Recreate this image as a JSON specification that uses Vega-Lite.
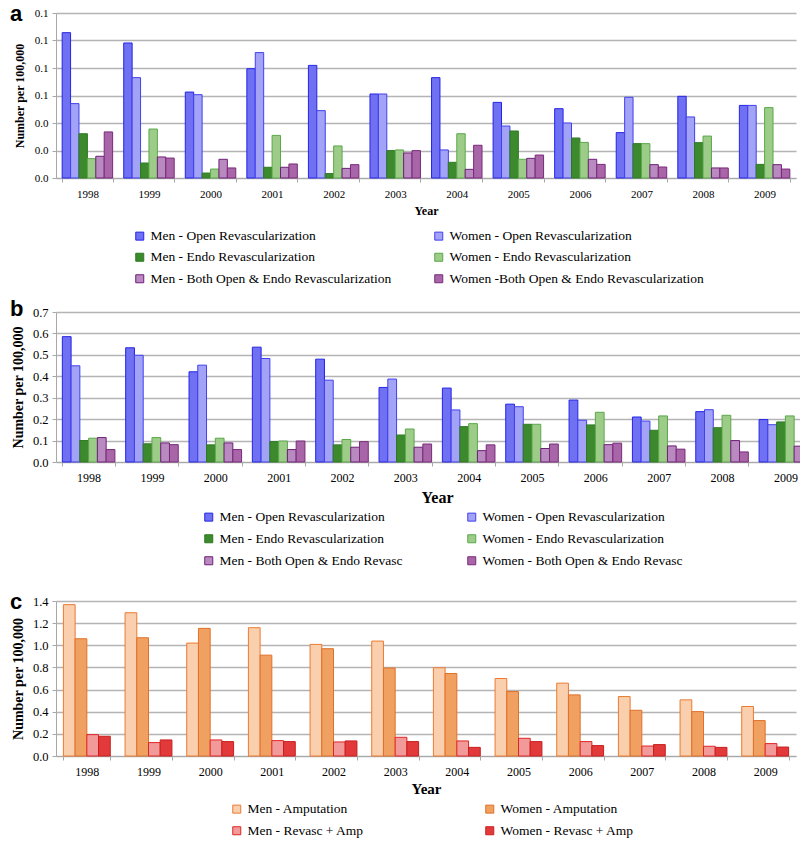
{
  "$schema": "https://vega.github.io/schema/vega-lite/v6.json",
  "background": "white",
  "padding": {"left": 10, "top": 3, "right": 5, "bottom": 2},
  "spacing": 12,
  "resolve": {"scale": {"fill": "independent", "stroke": "independent", "xOffset": "independent", "x": "independent", "y": "independent"}, "legend": {"fill": "independent", "stroke": "independent"}},
  "config": {
    "font": "Liberation Serif",
    "style": {"guide-label": {"font": "Liberation Serif"}, "guide-title": {"font": "Liberation Serif"}},
    "view": {"stroke": null},
    "axis": {"labelFont": "Liberation Serif", "titleFont": "Liberation Serif", "labelColor": "#000", "titleColor": "#000", "domainColor": "#a8a8a8", "tickColor": "#a8a8a8", "gridColor": "#b4b4b4", "gridWidth": 1.5, "titleFontWeight": "bold"},
    "axisX": {"labelAngle": 0, "tickBand": "extent", "tickSize": 4, "grid": false, "labelPadding": 6},
    "axisY": {"tickSize": 4, "labelPadding": 4},
    "legend": {"orient": "none", "direction": "horizontal", "columns": 2, "title": null, "symbolType": "square", "symbolSize": 64, "symbolStrokeWidth": 1, "labelFont": "Liberation Serif", "labelFontSize": 13.5, "labelColor": "#000", "labelLimit": 400, "rowPadding": 6.5, "labelOffset": 4},
    "title": {"font": "Liberation Sans", "fontSize": 22, "fontWeight": "bold", "color": "#000", "anchor": "start", "frame": "group", "orient": "top", "dx": -46, "offset": -19}
  },
  "datasets": {
    "a": [
      {"y":"1998","s":"MO","v":0.1057},{"y":"1998","s":"WO","v":0.0541},{"y":"1998","s":"ME","v":0.0322},{"y":"1998","s":"WE","v":0.0141},{"y":"1998","s":"MB","v":0.0158},{"y":"1998","s":"WB","v":0.0335},
      {"y":"1999","s":"MO","v":0.0982},{"y":"1999","s":"WO","v":0.073},{"y":"1999","s":"ME","v":0.0109},{"y":"1999","s":"WE","v":0.0356},{"y":"1999","s":"MB","v":0.0153},{"y":"1999","s":"WB","v":0.0145},
      {"y":"2000","s":"MO","v":0.0625},{"y":"2000","s":"WO","v":0.0606},{"y":"2000","s":"ME","v":0.0036},{"y":"2000","s":"WE","v":0.0065},{"y":"2000","s":"MB","v":0.0136},{"y":"2000","s":"WB","v":0.0073},
      {"y":"2001","s":"MO","v":0.0795},{"y":"2001","s":"WO","v":0.0912},{"y":"2001","s":"ME","v":0.0078},{"y":"2001","s":"WE","v":0.031},{"y":"2001","s":"MB","v":0.0078},{"y":"2001","s":"WB","v":0.0102},
      {"y":"2002","s":"MO","v":0.0819},{"y":"2002","s":"WO","v":0.049},{"y":"2002","s":"ME","v":0.0032},{"y":"2002","s":"WE","v":0.0233},{"y":"2002","s":"MB","v":0.007},{"y":"2002","s":"WB","v":0.0097},
      {"y":"2003","s":"MO","v":0.0611},{"y":"2003","s":"WO","v":0.0611},{"y":"2003","s":"ME","v":0.0199},{"y":"2003","s":"WE","v":0.0204},{"y":"2003","s":"MB","v":0.0182},{"y":"2003","s":"WB","v":0.0199},
      {"y":"2004","s":"MO","v":0.073},{"y":"2004","s":"WO","v":0.0204},{"y":"2004","s":"ME","v":0.0114},{"y":"2004","s":"WE","v":0.0322},{"y":"2004","s":"MB","v":0.0063},{"y":"2004","s":"WB","v":0.0238},
      {"y":"2005","s":"MO","v":0.055},{"y":"2005","s":"WO","v":0.0378},{"y":"2005","s":"ME","v":0.0342},{"y":"2005","s":"WE","v":0.0136},{"y":"2005","s":"MB","v":0.0143},{"y":"2005","s":"WB","v":0.0167},
      {"y":"2006","s":"MO","v":0.0504},{"y":"2006","s":"WO","v":0.04},{"y":"2006","s":"ME","v":0.0291},{"y":"2006","s":"WE","v":0.0259},{"y":"2006","s":"MB","v":0.0136},{"y":"2006","s":"WB","v":0.0099},
      {"y":"2007","s":"MO","v":0.033},{"y":"2007","s":"WO","v":0.0587},{"y":"2007","s":"ME","v":0.025},{"y":"2007","s":"WE","v":0.025},{"y":"2007","s":"MB","v":0.0097},{"y":"2007","s":"WB","v":0.008},
      {"y":"2008","s":"MO","v":0.0594},{"y":"2008","s":"WO","v":0.0444},{"y":"2008","s":"ME","v":0.0257},{"y":"2008","s":"WE","v":0.0305},{"y":"2008","s":"MB","v":0.0073},{"y":"2008","s":"WB","v":0.0073},
      {"y":"2009","s":"MO","v":0.0528},{"y":"2009","s":"WO","v":0.0528},{"y":"2009","s":"ME","v":0.0099},{"y":"2009","s":"WE","v":0.0512},{"y":"2009","s":"MB","v":0.0097},{"y":"2009","s":"WB","v":0.0065}
    ],
    "b": [
      {"y":"1998","s":"MO","v":0.585},{"y":"1998","s":"WO","v":0.449},{"y":"1998","s":"ME","v":0.1},{"y":"1998","s":"WE","v":0.111},{"y":"1998","s":"MB","v":0.114},{"y":"1998","s":"WB","v":0.058},
      {"y":"1999","s":"MO","v":0.533},{"y":"1999","s":"WO","v":0.498},{"y":"1999","s":"ME","v":0.085},{"y":"1999","s":"WE","v":0.114},{"y":"1999","s":"MB","v":0.089},{"y":"1999","s":"WB","v":0.081},
      {"y":"2000","s":"MO","v":0.421},{"y":"2000","s":"WO","v":0.452},{"y":"2000","s":"ME","v":0.08},{"y":"2000","s":"WE","v":0.111},{"y":"2000","s":"MB","v":0.089},{"y":"2000","s":"WB","v":0.058},
      {"y":"2001","s":"MO","v":0.536},{"y":"2001","s":"WO","v":0.483},{"y":"2001","s":"ME","v":0.095},{"y":"2001","s":"WE","v":0.098},{"y":"2001","s":"MB","v":0.058},{"y":"2001","s":"WB","v":0.098},
      {"y":"2002","s":"MO","v":0.48},{"y":"2002","s":"WO","v":0.382},{"y":"2002","s":"ME","v":0.08},{"y":"2002","s":"WE","v":0.105},{"y":"2002","s":"MB","v":0.069},{"y":"2002","s":"WB","v":0.095},
      {"y":"2003","s":"MO","v":0.348},{"y":"2003","s":"WO","v":0.387},{"y":"2003","s":"ME","v":0.126},{"y":"2003","s":"WE","v":0.154},{"y":"2003","s":"MB","v":0.069},{"y":"2003","s":"WB","v":0.084},
      {"y":"2004","s":"MO","v":0.345},{"y":"2004","s":"WO","v":0.243},{"y":"2004","s":"ME","v":0.165},{"y":"2004","s":"WE","v":0.179},{"y":"2004","s":"MB","v":0.053},{"y":"2004","s":"WB","v":0.08},
      {"y":"2005","s":"MO","v":0.27},{"y":"2005","s":"WO","v":0.258},{"y":"2005","s":"ME","v":0.176},{"y":"2005","s":"WE","v":0.176},{"y":"2005","s":"MB","v":0.063},{"y":"2005","s":"WB","v":0.084},
      {"y":"2006","s":"MO","v":0.289},{"y":"2006","s":"WO","v":0.195},{"y":"2006","s":"ME","v":0.173},{"y":"2006","s":"WE","v":0.232},{"y":"2006","s":"MB","v":0.081},{"y":"2006","s":"WB","v":0.088},
      {"y":"2007","s":"MO","v":0.21},{"y":"2007","s":"WO","v":0.191},{"y":"2007","s":"ME","v":0.148},{"y":"2007","s":"WE","v":0.215},{"y":"2007","s":"MB","v":0.075},{"y":"2007","s":"WB","v":0.06},
      {"y":"2008","s":"MO","v":0.235},{"y":"2008","s":"WO","v":0.244},{"y":"2008","s":"ME","v":0.16},{"y":"2008","s":"WE","v":0.218},{"y":"2008","s":"MB","v":0.1},{"y":"2008","s":"WB","v":0.047},
      {"y":"2009","s":"MO","v":0.198},{"y":"2009","s":"WO","v":0.174},{"y":"2009","s":"ME","v":0.187},{"y":"2009","s":"WE","v":0.215},{"y":"2009","s":"MB","v":0.074},{"y":"2009","s":"WB","v":0.07}
    ],
    "c": [
      {"y":"1998","s":"MA","v":1.367},{"y":"1998","s":"WA","v":1.059},{"y":"1998","s":"MR","v":0.193},{"y":"1998","s":"WR","v":0.178},
      {"y":"1999","s":"MA","v":1.294},{"y":"1999","s":"WA","v":1.068},{"y":"1999","s":"MR","v":0.121},{"y":"1999","s":"WR","v":0.145},
      {"y":"2000","s":"MA","v":1.02},{"y":"2000","s":"WA","v":1.153},{"y":"2000","s":"MR","v":0.145},{"y":"2000","s":"WR","v":0.13},
      {"y":"2001","s":"MA","v":1.159},{"y":"2001","s":"WA","v":0.911},{"y":"2001","s":"MR","v":0.139},{"y":"2001","s":"WR","v":0.13},
      {"y":"2002","s":"MA","v":1.008},{"y":"2002","s":"WA","v":0.969},{"y":"2002","s":"MR","v":0.127},{"y":"2002","s":"WR","v":0.136},
      {"y":"2003","s":"MA","v":1.038},{"y":"2003","s":"WA","v":0.794},{"y":"2003","s":"MR","v":0.169},{"y":"2003","s":"WR","v":0.13},
      {"y":"2004","s":"MA","v":0.797},{"y":"2004","s":"WA","v":0.745},{"y":"2004","s":"MR","v":0.136},{"y":"2004","s":"WR","v":0.078},
      {"y":"2005","s":"MA","v":0.7},{"y":"2005","s":"WA","v":0.582},{"y":"2005","s":"MR","v":0.16},{"y":"2005","s":"WR","v":0.13},
      {"y":"2006","s":"MA","v":0.658},{"y":"2006","s":"WA","v":0.552},{"y":"2006","s":"MR","v":0.13},{"y":"2006","s":"WR","v":0.094},
      {"y":"2007","s":"MA","v":0.537},{"y":"2007","s":"WA","v":0.413},{"y":"2007","s":"MR","v":0.09},{"y":"2007","s":"WR","v":0.103},
      {"y":"2008","s":"MA","v":0.507},{"y":"2008","s":"WA","v":0.401},{"y":"2008","s":"MR","v":0.088},{"y":"2008","s":"WR","v":0.078},
      {"y":"2009","s":"MA","v":0.447},{"y":"2009","s":"WA","v":0.32},{"y":"2009","s":"MR","v":0.112},{"y":"2009","s":"WR","v":0.081}
    ]
  },
  "vconcat": [
    {
      "data": {"name": "a"},
      "width": 740, "height": 165,
      "title": {"text": "a"},
      "mark": {"type": "bar", "strokeWidth": 1},
      "encoding": {
        "x": {"field": "y", "type": "nominal", "title": "Year", "scale": {"paddingInner": 0.18, "paddingOuter": 0.1}, "axis": {"labelFontSize": 11, "titleFontSize": 12, "titlePadding": 6}},
        "xOffset": {"field": "s", "type": "nominal", "scale": {"domain": ["MO","WO","ME","WE","MB","WB"]}},
        "y": {"field": "v", "type": "quantitative", "title": "Number per 100,000", "scale": {"domain": [0, 0.12]}, "axis": {"values": [0,0.02,0.04,0.06,0.08,0.1,0.12], "format": ".1f", "labelFontSize": 11, "titleFontSize": 12, "titlePadding": 8}},
        "fill": {"field": "s", "type": "nominal", "scale": {"domain": ["MO","WO","ME","WE","MB","WB"], "range": ["#7070f2","#a2a2f6","#3d8a2e","#9ccc88","#b98abf","#a866a8"]},
          "legend": {"legendX": 77, "legendY": 216, "columnPadding": 40, "labelFont": "Liberation Serif", "labelFontSize": 13.5, "direction": "horizontal", "labelExpr": "{'MO':'Men - Open Revascularization','WO':'Women - Open Revascularization','ME':'Men - Endo Revascularization','WE':'Women - Endo Revascularization','MB':'Men - Both Open & Endo Revascularization','WB':'Women -Both Open & Endo Revascularization'}[datum.label]"}},
        "stroke": {"field": "s", "type": "nominal", "scale": {"domain": ["MO","WO","ME","WE","MB","WB"], "range": ["#2424e8","#4040ee","#2e7a22","#5aa84a","#6e1e78","#7a2a7a"]},
          "legend": {"legendX": 77, "legendY": 216, "columnPadding": 40, "labelFont": "Liberation Serif", "labelFontSize": 13.5, "direction": "horizontal", "labelExpr": "{'MO':'Men - Open Revascularization','WO':'Women - Open Revascularization','ME':'Men - Endo Revascularization','WE':'Women - Endo Revascularization','MB':'Men - Both Open & Endo Revascularization','WB':'Women -Both Open & Endo Revascularization'}[datum.label]"}}
      }
    },
    {
      "data": {"name": "b"},
      "width": 762, "height": 150,
      "title": {"text": "b", "offset": -15},
      "mark": {"type": "bar", "strokeWidth": 1},
      "encoding": {
        "x": {"field": "y", "type": "nominal", "title": "Year", "scale": {"paddingInner": 0.17, "paddingOuter": 0.1}, "axis": {"labelFontSize": 12, "titleFontSize": 16, "titlePadding": 6}},
        "xOffset": {"field": "s", "type": "nominal", "scale": {"domain": ["MO","WO","ME","WE","MB","WB"]}},
        "y": {"field": "v", "type": "quantitative", "title": "Number per 100,000", "scale": {"domain": [0, 0.7]}, "axis": {"values": [0,0.1,0.2,0.3,0.4,0.5,0.6,0.7], "format": ".1f", "labelFontSize": 12.5, "titleFontSize": 14, "titlePadding": 7}},
        "fill": {"field": "s", "type": "nominal", "scale": {"domain": ["MO","WO","ME","WE","MB","WB"], "range": ["#7070f2","#a2a2f6","#3d8a2e","#9ccc88","#b98abf","#a866a8"]},
          "legend": {"legendX": 135, "legendY": 187, "padding": 11, "columnPadding": 62, "rowPadding": 7, "labelFont": "Liberation Serif", "labelFontSize": 13.5, "direction": "horizontal", "labelExpr": "{'MO':'Men - Open Revascularization','WO':'Women - Open Revascularization','ME':'Men - Endo Revascularization','WE':'Women - Endo Revascularization','MB':'Men - Both Open & Endo Revasc','WB':'Women - Both Open & Endo Revasc'}[datum.label]"}},
        "stroke": {"field": "s", "type": "nominal", "scale": {"domain": ["MO","WO","ME","WE","MB","WB"], "range": ["#2424e8","#4040ee","#2e7a22","#5aa84a","#6e1e78","#7a2a7a"]},
          "legend": {"legendX": 135, "legendY": 187, "padding": 11, "columnPadding": 62, "rowPadding": 7, "labelFont": "Liberation Serif", "labelFontSize": 13.5, "direction": "horizontal", "labelExpr": "{'MO':'Men - Open Revascularization','WO':'Women - Open Revascularization','ME':'Men - Endo Revascularization','WE':'Women - Endo Revascularization','MB':'Men - Both Open & Endo Revasc','WB':'Women - Both Open & Endo Revasc'}[datum.label]"}}
      }
    },
    {
      "data": {"name": "c"},
      "width": 740, "height": 155,
      "title": {"text": "c", "offset": -19},
      "mark": {"type": "bar", "strokeWidth": 1},
      "encoding": {
        "x": {"field": "y", "type": "nominal", "title": "Year", "scale": {"paddingInner": 0.24, "paddingOuter": 0.12}, "axis": {"labelFontSize": 12, "titleFontSize": 15, "titlePadding": 4}},
        "xOffset": {"field": "s", "type": "nominal", "scale": {"domain": ["MA","WA","MR","WR"]}},
        "y": {"field": "v", "type": "quantitative", "title": "Number per 100,000", "scale": {"domain": [0, 1.4]}, "axis": {"values": [0,0.2,0.4,0.6,0.8,1,1.2,1.4], "format": ".1f", "labelFontSize": 12.5, "titleFontSize": 14, "titlePadding": 7}},
        "fill": {"field": "s", "type": "nominal", "scale": {"domain": ["MA","WA","MR","WR"], "range": ["#f9cfae","#f0a060","#f29a9a","#e23a3a"]},
          "legend": {"legendX": 174, "legendY": 201, "columnPadding": 119, "rowPadding": 7, "labelFont": "Liberation Serif", "labelFontSize": 13.5, "direction": "horizontal", "labelExpr": "{'MA':'Men - Amputation','WA':'Women - Amputation','MR':'Men - Revasc + Amp','WR':'Women - Revasc + Amp'}[datum.label]"}},
        "stroke": {"field": "s", "type": "nominal", "scale": {"domain": ["MA","WA","MR","WR"], "range": ["#ec7a30","#e0702a","#e02424","#c81e1e"]},
          "legend": {"legendX": 174, "legendY": 201, "columnPadding": 119, "rowPadding": 7, "labelFont": "Liberation Serif", "labelFontSize": 13.5, "direction": "horizontal", "labelExpr": "{'MA':'Men - Amputation','WA':'Women - Amputation','MR':'Men - Revasc + Amp','WR':'Women - Revasc + Amp'}[datum.label]"}}
      }
    }
  ]
}
